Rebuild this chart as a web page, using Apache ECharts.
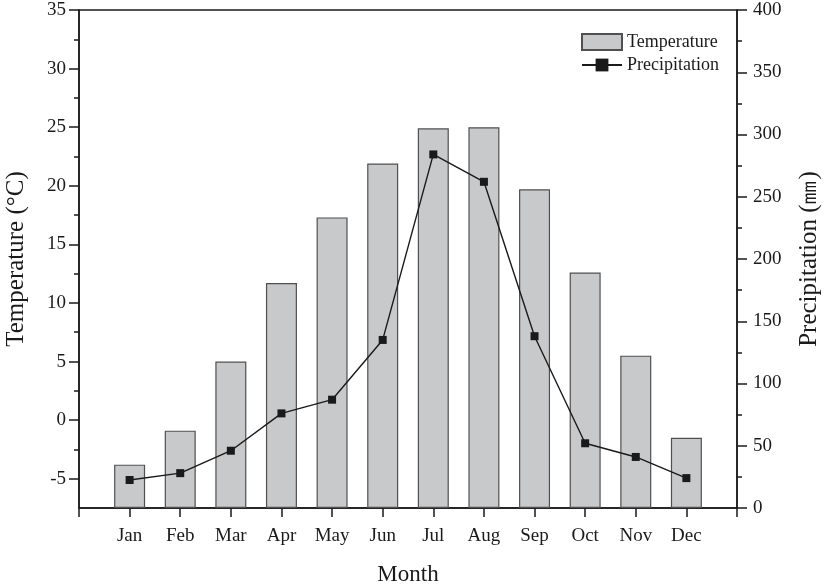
<!DOCTYPE html>
<html>
<head>
<meta charset="utf-8">
<script src="https://cdn.jsdelivr.net/npm/echarts@6/dist/echarts.min.js"></script>
<style>html,body{margin:0;padding:0;background:#fff}#c{width:827px;height:587px}</style>
</head>
<body>
<div id="c"></div>
<script>
const months = ['Jan','Feb','Mar','Apr','May','Jun','Jul','Aug','Sep','Oct','Nov','Dec'];
const temperature = [-3.8, -0.9, 5.0, 11.7, 17.3, 21.9, 24.9, 25.0, 19.7, 12.6, 5.5, -1.5];
const precipitation = [22.5, 28, 46, 76, 87, 135, 284, 262, 138, 52, 41, 24];
const tempMin = -7.5, tempMax = 35;
const tempMajorTicks = [-5, 0, 5, 10, 15, 20, 25, 30, 35];
const tempMinorTicks = [-2.5, 2.5, 7.5, 12.5, 17.5, 22.5, 27.5, 32.5];
const precMin = 0, precMax = 400;

const FONT = 'Liberation Serif';
const cats = [''].concat(months, ['']);
const barData = [null].concat(temperature.map(t => t - tempMin), [null]);
const lineData = [null].concat(precipitation, [null]);

const chart = echarts.init(document.getElementById('c'), null, {renderer: 'canvas'});
chart.setOption({
  backgroundColor: '#fff',
  animation: false,
  textStyle: {fontFamily: FONT},
  grid: {left: 79, right: 90, top: 10, bottom: 79, show: true, borderColor: '#1a1a1a', borderWidth: 1.5,
         containLabel: false, outerBoundsMode: 'none'},
  legend: {
    orient: 'vertical', left: 576, top: 28, itemWidth: 40, itemHeight: 16, itemGap: 5,
    textStyle: {fontFamily: FONT, fontSize: 18, color: '#1a1a1a'},
    data: [{name: 'Temperature', icon: 'rect'}, {name: 'Precipitation'}]
  },
  xAxis: {
    type: 'category', data: cats, boundaryGap: false,
    name: 'Month', nameLocation: 'middle', nameGap: 55,
    nameTextStyle: {fontFamily: FONT, fontSize: 23, color: '#1a1a1a'},
    axisLine: {onZero: false, lineStyle: {color: '#1a1a1a', width: 1.5}},
    axisTick: {show: true, length: 9, inside: false, lineStyle: {color: '#1a1a1a', width: 1.5}},
    axisLabel: {fontFamily: FONT, fontSize: 19, color: '#1a1a1a', margin: 19, interval: 0},
    splitLine: {show: false}
  },
  yAxis: [
    {
      type: 'value', position: 'left', min: tempMin, max: tempMax,
      name: 'Temperature (°C)', nameLocation: 'middle', nameGap: 50, nameRotate: 90,
      nameTextStyle: {fontFamily: FONT, fontSize: 25, color: '#1a1a1a'},
      axisLine: {show: true, onZero: false, lineStyle: {color: '#1a1a1a', width: 1.5}},
      axisTick: {show: true, length: 10, customValues: tempMajorTicks, lineStyle: {color: '#1a1a1a', width: 1.5}},
      axisLabel: {fontFamily: FONT, fontSize: 19, color: '#1a1a1a', margin: 13, customValues: tempMajorTicks},
      splitLine: {show: false}
    },
    {
      type: 'value', position: 'right', min: precMin, max: precMax, interval: 50,
      name: 'Precipitation (㎜)', nameLocation: 'middle', nameGap: 60, nameRotate: 90,
      nameTextStyle: {fontFamily: FONT, fontSize: 25, color: '#1a1a1a'},
      axisLine: {show: true, onZero: false, lineStyle: {color: '#1a1a1a', width: 1.5}},
      axisTick: {show: true, length: 10, lineStyle: {color: '#1a1a1a', width: 1.5}},
      minorTick: {show: true, splitNumber: 2, length: 5, lineStyle: {color: '#1a1a1a', width: 1.5}},
      axisLabel: {fontFamily: FONT, fontSize: 19, color: '#1a1a1a', margin: 16},
      splitLine: {show: false}, minorSplitLine: {show: false}
    },
    {
      type: 'value', position: 'left', min: tempMin, max: tempMax,
      axisLine: {show: false, onZero: false},
      axisTick: {show: true, length: 5, customValues: tempMinorTicks, lineStyle: {color: '#1a1a1a', width: 1.5}},
      axisLabel: {show: false},
      splitLine: {show: false}
    },
    {
      type: 'value', show: false, min: 0, max: tempMax - tempMin,
      splitLine: {show: false}
    }
  ],
  series: [
    {
      name: 'Temperature', type: 'bar', yAxisIndex: 3, data: barData, barWidth: 31,
      itemStyle: {color: '#c8c9cb', borderColor: '#505050', borderWidth: 1.2},
      z: 2
    },
    {
      name: 'Precipitation', type: 'line', yAxisIndex: 1, data: lineData,
      symbol: 'rect', symbolSize: 8, connectNulls: false,
      lineStyle: {color: '#1a1a1a', width: 1.4},
      itemStyle: {color: '#1a1a1a'},
      z: 3
    }
  ]
});
</script>
</body>
</html>
